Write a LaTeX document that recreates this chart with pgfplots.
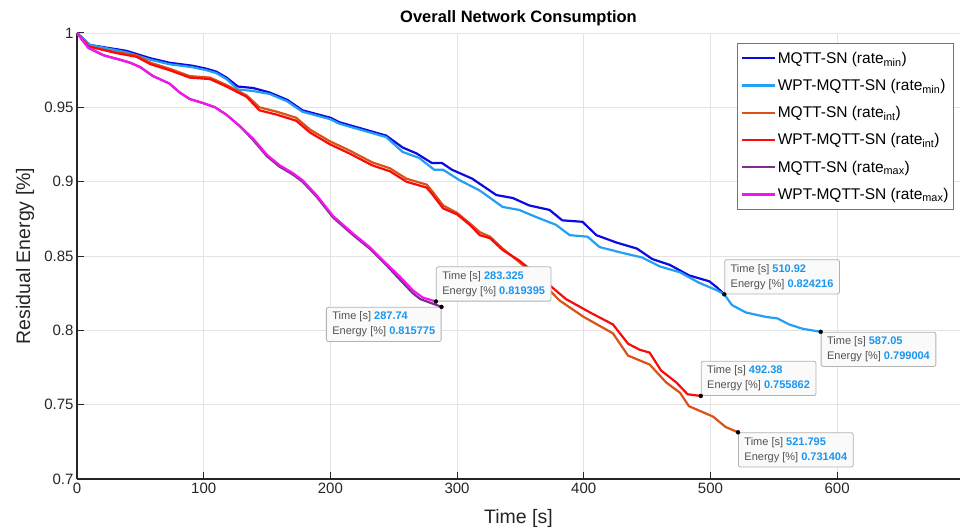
\documentclass[border=0pt]{standalone}
\usepackage{pgfplots}
\pgfplotsset{compat=1.18}
\usepackage{fontspec}
\setmainfont{Liberation Sans}

\definecolor{cMinA}{RGB}{10,10,225}
\definecolor{cMinB}{RGB}{35,160,245}
\definecolor{cIntA}{RGB}{217,83,25}
\definecolor{cIntB}{RGB}{250,10,10}
\definecolor{cMaxA}{RGB}{126,47,142}
\definecolor{cMaxB}{RGB}{245,20,240}
\definecolor{tipVal}{RGB}{25,150,240}
\definecolor{axGray}{RGB}{38,38,38}

\newcommand{\tipv}[1]{\textbf{\color{tipVal}#1}}

\begin{document}
\begin{tikzpicture}
% 1pt ~ 1px of the 960x531 reference
\path[use as bounding box] (-77pt,-52pt) rectangle (883pt,479pt);
\begin{axis}[
    at={(0,0)}, anchor=south west,
    scale only axis, width=883pt, height=446pt,
    xmin=0, xmax=697, ymin=0.7, ymax=1,
    xtick={0,100,200,300,400,500,600},
    ytick={0.7,0.75,0.8,0.85,0.9,0.95,1},
    yticklabel style={/pgf/number format/fixed, /pgf/number format/precision=2},
    /pgf/number format/assume math mode=true,
    axis x line*=bottom, axis y line*=left,
    axis line style={-, axGray, line width=1.1pt},
    tick align=inside, major tick length=7pt,
    tick style={axGray, line width=1pt},
    tick label style={font=\fontsize{15}{18}\selectfont, text=axGray},
    grid=major, major grid style={draw=black!11, line width=0.8pt},
    xlabel={Time [s]}, ylabel={Residual Energy [\%]},
    label style={font=\fontsize{19.5}{22}\selectfont, text=axGray},
    x label style={at={(axis description cs:0.5,-0.0874)}, anchor=center},
    y label style={at={(axis description cs:-0.0589,0.5)}, anchor=center},
    title={Overall Network Consumption},
    every axis title shift=0pt,
    title style={at={(axis description cs:0.5,1.0336)}, anchor=center, font=\bfseries\fontsize{16.5}{20}\selectfont},
    legend style={at={(axis description cs:0.9932,0.9776)}, anchor=north east,
        draw=black!55, line width=0.8pt, fill=white, font=\fontsize{15.5}{18}\selectfont,
        row sep=10.5pt, inner xsep=3pt, inner ysep=6.5pt},
    legend cell align=left,
    legend image code/.code={\draw[#1] (0pt,0pt) -- (33pt,0pt);},
    every axis plot/.append style={line width=2.2pt},
]
\addplot[cMinA] coordinates {
(0,1) (10,0.992) (39,0.988) (58,0.983) (73,0.980) (91,0.978) (102,0.976)
(110,0.974) (118,0.970) (127,0.964) (139,0.963) (152,0.960) (166,0.955)
(178,0.948) (200,0.943) (207,0.940) (244,0.931) (257,0.923) (268,0.919)
(280,0.9126) (288,0.9126) (296,0.908) (312,0.902) (331,0.891) (344,0.889)
(357,0.884) (373,0.881) (383,0.874) (399,0.873) (410,0.864) (426,0.859)
(442,0.855) (454,0.848) (468,0.844) (483,0.837) (499,0.833) (505,0.829)
(510.92,0.824216)};
\addlegendentry{MQTT-SN (rate\textsubscript{min})}
\addplot[cMinB] coordinates {
(0,1) (10,0.992) (39,0.987) (58,0.982) (73,0.979) (91,0.977) (102,0.975)
(110,0.973) (118,0.969) (127,0.962) (139,0.961) (152,0.959) (166,0.954)
(178,0.947) (200,0.942) (207,0.939) (244,0.930) (257,0.920) (270,0.916)
(282,0.908) (289,0.908) (302,0.901) (318,0.894) (336,0.883) (349,0.881)
(363,0.876) (378,0.871) (389,0.864) (403,0.863) (412.5,0.856) (431,0.852)
(446,0.849) (460,0.843) (476,0.839) (491,0.832) (505,0.827) (510.92,0.824216)
(517,0.817) (528,0.812) (544,0.809) (553,0.808) (562,0.804) (573,0.801)
(587.05,0.799004)};
\addlegendentry{WPT-MQTT-SN (rate\textsubscript{min})}
\addplot[cIntA] coordinates {
(0,1) (9,0.991) (31,0.987) (47,0.985) (58,0.980) (73,0.976) (89,0.971)
(105,0.970) (118,0.965) (134,0.958) (144,0.950) (158,0.947) (173,0.943)
(184,0.935) (200,0.927) (215,0.921) (233,0.913) (247,0.909) (260,0.902)
(276,0.898) (280,0.894) (289,0.884) (300,0.879) (310,0.872) (318,0.866)
(326,0.863) (336,0.855) (349,0.846) (365,0.834) (381,0.820) (400,0.809)
(423,0.798) (435,0.783) (452,0.777) (465,0.765) (476,0.758) (483,0.749)
(502,0.742) (512,0.735) (521.795,0.731404)};
\addlegendentry{MQTT-SN (rate\textsubscript{int})}
\addplot[cIntB] coordinates {
(0,1) (9,0.991) (31,0.9865) (47,0.984) (58,0.979) (73,0.975) (89,0.970)
(105,0.969) (118,0.964) (134,0.957) (144,0.948) (158,0.945) (173,0.941)
(184,0.933) (200,0.925) (215,0.919) (233,0.911) (247,0.907) (260,0.900)
(276,0.896) (280,0.892) (289,0.882) (300,0.878) (310,0.871) (318,0.864)
(326,0.862) (336,0.854) (349,0.847) (368,0.834) (386,0.821) (405,0.812)
(423,0.804) (435,0.791) (444,0.787) (452,0.785) (461,0.773) (473,0.765)
(482,0.757) (492.38,0.755862)};
\addlegendentry{WPT-MQTT-SN (rate\textsubscript{int})}
\addplot[cMaxA] coordinates {
(0,1) (9,0.990) (21,0.985) (34,0.982) (42,0.980) (50,0.977) (60,0.971)
(73,0.966) (81,0.960) (89,0.9556) (99,0.953) (109,0.950) (118,0.945)
(129,0.937) (139,0.928) (150,0.917) (160,0.910) (170,0.905) (178,0.900)
(189,0.890) (202,0.876) (218,0.864) (231,0.855) (244,0.844) (255,0.834)
(265,0.825) (271,0.821) (287.74,0.815775)};
\addlegendentry{MQTT-SN (rate\textsubscript{max})}
\addplot[cMaxB] coordinates {
(0,1) (9,0.990) (21,0.985) (34,0.982) (42,0.980) (50,0.977) (60,0.971)
(73,0.966) (81,0.960) (89,0.9556) (99,0.953) (109,0.950) (118,0.945)
(129,0.937) (139,0.929) (150,0.918) (160,0.911) (170,0.906) (178,0.901)
(189,0.891) (202,0.877) (218,0.865) (231,0.856) (244,0.845) (255,0.836)
(265,0.827) (273,0.822) (283.325,0.819395)};
\addlegendentry{WPT-MQTT-SN (rate\textsubscript{max})}

% data tip markers
\addplot[only marks, mark=*, mark size=2pt, line width=0.3pt, black, forget plot] coordinates {
(283.325,0.819395) (287.74,0.815775) (510.92,0.824216)
(587.05,0.799004) (492.38,0.755862) (521.795,0.731404)};

\tikzset{tip/.style={draw=black!30, fill=black!2, rounded corners=2pt, line width=0.8pt,
    font=\fontsize{11}{15}\selectfont, align=left, inner xsep=6pt, inner ysep=4.5pt, text=black!68}}
\node[tip, anchor=south west] at (axis cs:283.325,0.819395) {Time [s] \tipv{283.325}\\Energy [\%] \tipv{0.819395}};
\node[tip, anchor=north east] at (axis cs:287.74,0.815775) {Time [s] \tipv{287.74}\\Energy [\%] \tipv{0.815775}};
\node[tip, anchor=south west] at (axis cs:510.92,0.824216) {Time [s] \tipv{510.92}\\Energy [\%] \tipv{0.824216}};
\node[tip, anchor=north west] at (axis cs:587.05,0.799004) {Time [s] \tipv{587.05}\\Energy [\%] \tipv{0.799004}};
\node[tip, anchor=south west] at (axis cs:492.38,0.755862) {Time [s] \tipv{492.38}\\Energy [\%] \tipv{0.755862}};
\node[tip, anchor=north west] at (axis cs:521.795,0.731404) {Time [s] \tipv{521.795}\\Energy [\%] \tipv{0.731404}};
\end{axis}
\end{tikzpicture}
\end{document}
